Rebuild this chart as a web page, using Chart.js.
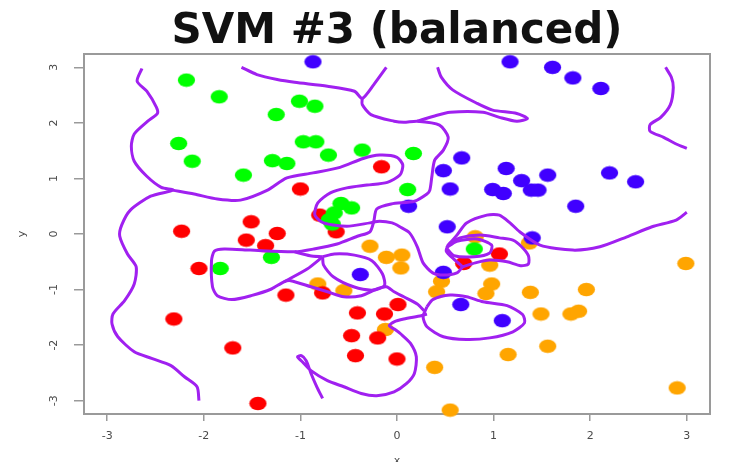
<!DOCTYPE html>
<html>
<head>
<meta charset="utf-8">
<script src="https://cdn.jsdelivr.net/npm/chart.js@4.4.1/dist/chart.umd.min.js"></script>
<style>
  html, body { margin: 0; padding: 0; background: #ffffff; }
  #wrap { width: 745px; height: 462px; }
</style>
</head>
<body>
<div id="wrap"><canvas id="c" width="745" height="462"></canvas></div>
<script>
// ---- labels and ticks ----
const titleText = 'SVM #3 (balanced)';
const xAxisLabel = 'x';
const yAxisLabel = 'y';
const tickValues = [-3, -2, -1, 0, 1, 2, 3];

// ---- observations, one array per class ----
const greenPts = [
  [-2.18, 2.77], [-1.84, 2.47], [-1.25, 2.15], [-1.01, 2.39], [-0.85, 2.30],
  [-2.26, 1.63], [-2.12, 1.31], [-1.29, 1.32], [-1.14, 1.27], [-1.59, 1.06],
  [-0.97, 1.66], [-0.84, 1.66], [-0.71, 1.42], [-0.36, 1.51], [0.17, 1.45],
  [0.11, 0.80], [-0.58, 0.55], [-0.47, 0.47], [-0.65, 0.38], [-0.70, 0.26],
  [-0.67, 0.18], [-1.83, -0.62], [-1.30, -0.42], [0.80, -0.27]
];
const bluePts = [
  [-0.87, 3.10], [1.17, 3.10], [1.61, 3.00], [1.82, 2.81], [2.11, 2.62],
  [0.67, 1.37], [0.48, 1.14], [1.13, 1.18], [1.56, 1.06], [1.29, 0.96],
  [1.39, 0.79], [1.46, 0.79], [0.55, 0.81], [0.99, 0.80], [1.10, 0.73],
  [2.20, 1.10], [2.47, 0.94], [1.85, 0.50], [0.12, 0.50], [0.52, 0.13],
  [1.40, -0.07], [-0.38, -0.73], [0.48, -0.69], [0.66, -1.27], [1.09, -1.56]
];
const redPts = [
  [-0.16, 1.21], [-1.00, 0.81], [-0.80, 0.34], [-0.63, 0.04], [-1.51, 0.22],
  [-2.23, 0.05], [-1.24, 0.01], [-1.56, -0.11], [-1.36, -0.21], [-2.05, -0.62],
  [-2.31, -1.53], [-1.70, -2.05], [-1.44, -3.05], [-1.15, -1.10], [-0.77, -1.06],
  [-0.41, -1.42], [-0.13, -1.44], [0.01, -1.27], [-0.47, -1.83], [-0.20, -1.87],
  [-0.43, -2.19], [0.00, -2.25], [0.69, -0.53], [1.06, -0.36]
];
const orangePts = [
  [-0.28, -0.22], [-0.11, -0.42], [0.05, -0.38], [0.04, -0.61], [-0.82, -0.90],
  [-0.55, -1.02], [-0.12, -1.72], [0.81, -0.05], [0.96, -0.56], [0.46, -0.85],
  [0.41, -1.04], [0.98, -0.90], [0.92, -1.07], [1.37, -0.16], [1.38, -1.05],
  [1.96, -1.00], [1.49, -1.44], [1.80, -1.44], [1.88, -1.39], [1.56, -2.02],
  [1.15, -2.17], [0.39, -2.40], [0.55, -3.17], [2.99, -0.53], [2.90, -2.77]
];

// ---- decision boundary contour pieces ----
const boundaryWest = [
  [-2.64, 2.98], [-2.69, 2.75], [-2.59, 2.57], [-2.49, 2.28], [-2.48, 2.17],
  [-2.58, 2.03], [-2.72, 1.80], [-2.75, 1.58], [-2.72, 1.31], [-2.59, 1.04],
  [-2.44, 0.84], [-2.32, 0.79], [-2.55, 0.68], [-2.76, 0.43], [-2.85, 0.16],
  [-2.87, -0.04], [-2.79, -0.36], [-2.70, -0.59], [-2.72, -0.90], [-2.82, -1.20],
  [-2.94, -1.44], [-2.95, -1.62], [-2.89, -1.85], [-2.72, -2.12], [-2.54, -2.24],
  [-2.34, -2.37], [-2.20, -2.57], [-2.07, -2.75], [-2.05, -3.00]
];
const boundaryLobe = [
  [-2.32, 0.79], [-2.10, 0.72], [-1.86, 0.63], [-1.62, 0.61], [-1.34, 0.79],
  [-1.14, 1.01], [-0.87, 1.10], [-0.59, 1.20], [-0.35, 1.36], [-0.18, 1.42],
  [0.00, 1.38], [0.06, 1.24], [0.03, 1.06], [-0.10, 0.93], [-0.31, 0.88],
  [-0.52, 0.83], [-0.69, 0.74], [-0.82, 0.56], [-0.85, 0.34], [-0.76, 0.20],
  [-0.52, 0.14], [-0.28, 0.20], [-0.18, 0.23], [-0.05, 0.20], [0.03, 0.13],
  [0.13, 0.02], [0.21, -0.23], [0.27, -0.52], [0.37, -0.70], [0.48, -0.74],
  [0.62, -0.70], [0.68, -0.59]
];
const boundaryNorth = [
  [-1.61, 3.00], [-1.45, 2.87], [-1.24, 2.78], [-1.06, 2.73], [-0.72, 2.66],
  [-0.44, 2.57], [-0.36, 2.44], [-0.24, 2.69], [-0.11, 3.00]
];
const boundaryCentral = [
  [-0.36, 2.44], [-0.36, 2.33], [-0.27, 2.15], [-0.03, 2.03], [0.07, 2.01],
  [0.21, 2.03], [0.44, 1.96], [0.53, 1.74], [0.48, 1.51], [0.39, 1.33],
  [0.36, 1.02], [0.34, 0.79], [0.31, 0.72], [0.18, 0.59], [-0.06, 0.54],
  [-0.21, 0.45], [-0.24, 0.23], [-0.28, 0.04], [-0.41, -0.04], [-0.62, -0.18],
  [-0.86, -0.27], [-1.06, -0.32], [-1.52, -0.29], [-1.79, -0.27], [-1.89, -0.31],
  [-1.92, -0.48], [-1.91, -0.95], [-1.86, -1.11], [-1.71, -1.18], [-1.51, -1.11],
  [-1.30, -0.99], [-1.17, -0.86], [-1.10, -0.84], [-0.89, -0.95], [-0.72, -1.04],
  [-0.55, -1.13], [-0.37, -1.11], [-0.21, -0.99], [-0.11, -0.95], [-0.03, -1.04],
  [0.07, -1.13], [0.21, -1.26], [0.28, -1.38]
];
const boundaryHairpin = [
  [0.21, 2.03], [0.38, 2.12], [0.55, 2.19], [0.89, 2.19], [1.06, 2.10],
  [1.24, 2.03], [1.35, 2.08], [1.24, 2.17], [0.99, 2.23], [0.83, 2.35],
  [0.58, 2.59], [0.46, 2.82], [0.42, 3.00]
];
const boundaryEllipse = [
  [-0.77, -0.41], [-0.65, -0.36], [-0.44, -0.38], [-0.26, -0.48], [-0.15, -0.72],
  [-0.13, -0.93], [-0.25, -1.01], [-0.45, -0.95], [-0.66, -0.77], [-0.76, -0.56],
  [-0.77, -0.41]
];
const boundaryLinkUpper = [[-1.06, -0.32], [-0.90, -0.39], [-0.77, -0.41]];
const boundaryLinkLower = [[-1.17, -0.86], [-0.93, -0.63], [-0.77, -0.41]];
const boundaryOval = [
  [0.31, -1.31], [0.37, -1.18], [0.55, -1.10], [0.72, -1.13], [0.89, -1.22],
  [1.14, -1.29], [1.30, -1.45], [1.32, -1.60], [1.20, -1.76], [0.96, -1.87],
  [0.72, -1.90], [0.48, -1.85], [0.31, -1.67], [0.27, -1.49], [0.31, -1.31]
];
const boundarySouth = [
  [0.31, -1.44], [0.25, -1.47], [0.07, -1.53], [-0.03, -1.58], [-0.08, -1.65],
  [-0.02, -1.72], [0.04, -1.80], [0.14, -1.97], [0.20, -2.21], [0.18, -2.51],
  [0.10, -2.69], [-0.03, -2.84], [-0.21, -2.91], [-0.37, -2.87], [-0.55, -2.75],
  [-0.72, -2.64], [-0.89, -2.46], [-0.98, -2.30], [-1.03, -2.21], [-0.99, -2.19],
  [-0.94, -2.28], [-0.89, -2.51], [-0.83, -2.75], [-0.77, -2.96]
];
const boundaryInnerLoop = [
  [0.51, -0.25], [0.62, -0.13], [0.83, -0.09], [0.98, -0.20], [0.96, -0.34],
  [0.80, -0.41], [0.59, -0.39], [0.51, -0.25]
];
const boundaryOuterLoop = [
  [0.68, -0.59], [0.60, -0.47], [0.51, -0.31], [0.54, -0.18], [0.65, -0.07],
  [0.86, -0.02], [1.06, -0.07], [1.20, -0.11], [1.29, -0.23], [1.36, -0.39],
  [1.36, -0.54], [1.28, -0.57], [1.14, -0.50], [0.96, -0.47], [0.81, -0.52],
  [0.68, -0.59]
];
const boundaryEast = [
  [0.52, -0.22], [0.62, -0.02], [0.72, 0.20], [0.93, 0.34], [1.06, 0.34],
  [1.17, 0.20], [1.27, 0.04], [1.48, -0.20], [1.82, -0.29], [2.10, -0.23],
  [2.38, -0.05], [2.64, 0.13], [2.89, 0.25], [3.00, 0.39]
];
const boundaryNorthEast = [
  [2.78, 3.00], [2.84, 2.82], [2.86, 2.64], [2.83, 2.33], [2.73, 2.10],
  [2.62, 1.97], [2.62, 1.85], [2.76, 1.74], [2.89, 1.62], [3.00, 1.54]
];

// ---- styling ----
const PURPLE = '#a020f0';
const AXIS_GREY = '#9a9a9a';
const TEXT_GREY = '#4a4a4a';

// filled oval used as the plotting symbol
function makeBlob(color) {
  const c = document.createElement('canvas');
  c.width = 19; c.height = 15;
  const g = c.getContext('2d');
  g.fillStyle = color;
  g.beginPath();
  g.ellipse(9.5, 7.5, 8.6, 6.7, 0, 0, Math.PI * 2);
  g.fill();
  return c;
}

const toXY = arr => arr.map(([x, y]) => ({ x, y }));

const curveSet = arr => ({
  data: toXY(arr),
  showLine: true,
  borderColor: PURPLE,
  borderWidth: 3,
  pointRadius: 0,
  pointHoverRadius: 0,
  tension: 0.25,
  fill: false,
  order: 0
});

const pointSet = (arr, color) => ({
  data: toXY(arr),
  showLine: false,
  pointStyle: makeBlob(color),
  pointRadius: 8,
  pointHoverRadius: 8,
  backgroundColor: color,
  borderColor: color,
  clip: 10,
  order: 1
});

const curves = [
  boundaryWest, boundaryLobe, boundaryNorth, boundaryCentral, boundaryHairpin,
  boundaryEllipse, boundaryLinkUpper, boundaryLinkLower, boundaryOval,
  boundarySouth, boundaryInnerLoop, boundaryOuterLoop, boundaryEast, boundaryNorthEast
];

// plot frame drawn around the whole plotting region
const frameBox = {
  id: 'frameBox',
  beforeDatasetsDraw(chart) {
    const { ctx, chartArea: a } = chart;
    ctx.save();
    ctx.strokeStyle = AXIS_GREY;
    ctx.lineWidth = 2;
    ctx.strokeRect(a.left, a.top, a.right - a.left, a.bottom - a.top);
    ctx.restore();
  }
};

const setTicks = scale => { scale.ticks = tickValues.map(v => ({ value: v })); };

new Chart(document.getElementById('c'), {
  type: 'scatter',
  data: {
    datasets: [
      ...curves.map(curveSet),
      pointSet(greenPts, '#00ff00'),
      pointSet(bluePts, '#4000ff'),
      pointSet(redPts, '#ff0000'),
      pointSet(orangePts, '#ffa500')
    ]
  },
  options: {
    responsive: false,
    animation: false,
    events: [],
    layout: { padding: { left: 0, right: 35, top: 0, bottom: 0 } },
    plugins: {
      legend: { display: false },
      tooltip: { enabled: false },
      title: {
        display: true,
        fullSize: false,
        text: titleText,
        color: '#111111',
        font: { family: 'DejaVu Sans', size: 42, weight: 'bold', lineHeight: 1.0 },
        padding: { top: 11, bottom: 1 }
      }
    },
    scales: {
      x: {
        type: 'linear',
        min: -3.24,
        max: 3.24,
        afterBuildTicks: setTicks,
        afterFit: s => { s.height = 48; },
        border: { display: false },
        grid: { display: true, drawOnChartArea: false, drawTicks: true, tickLength: 7, color: AXIS_GREY, lineWidth: 1.5 },
        ticks: { color: TEXT_GREY, font: { family: 'DejaVu Sans', size: 11 }, padding: 9, maxRotation: 0, minRotation: 0 },
        title: { display: true, text: xAxisLabel, color: TEXT_GREY, font: { family: 'DejaVu Sans', size: 11 }, padding: { top: 0, bottom: -5.6 } }
      },
      y: {
        type: 'linear',
        min: -3.24,
        max: 3.24,
        afterBuildTicks: setTicks,
        afterFit: s => { s.width = 84; },
        border: { display: false },
        grid: { display: true, drawOnChartArea: false, drawTicks: true, tickLength: 10, color: AXIS_GREY, lineWidth: 1.5 },
        ticks: { color: TEXT_GREY, font: { family: 'DejaVu Sans', size: 11 }, padding: 14.5, minRotation: 90, maxRotation: 90, crossAlign: 'center' },
        title: { display: true, text: yAxisLabel, color: TEXT_GREY, font: { family: 'DejaVu Sans', size: 11 }, padding: { top: 15.4, bottom: 0 } }
      }
    }
  },
  plugins: [frameBox]
});
</script>
</body>
</html>
